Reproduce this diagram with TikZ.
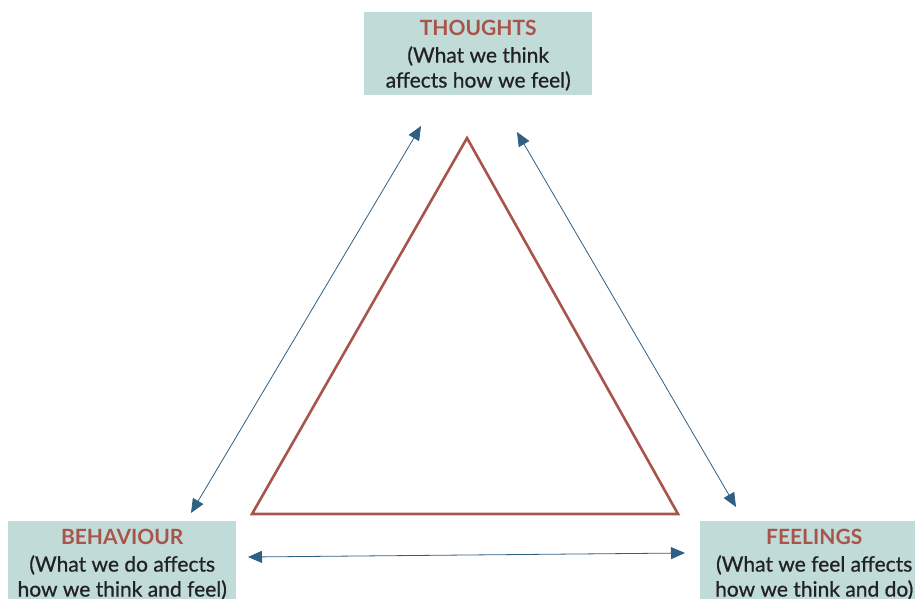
\documentclass[tikz,border=0pt]{standalone}
\usepackage{fontspec}
\setmainfont{Lato}
\newfontfamily\medfont{Lato}[RawFeature={embolden=0.8}]
\usetikzlibrary{arrows.meta}
\definecolor{boxfill}{HTML}{C1DCD8}
\definecolor{tred}{HTML}{A9544B}
\definecolor{tblue}{HTML}{2F5F82}
\definecolor{ttext}{HTML}{222222}
\tikzset{
  box/.style={fill=boxfill, draw=none, minimum width=228pt, minimum height=83pt, inner sep=0pt,
    anchor=north west},
  lbl/.style={anchor=north, inner sep=0pt, yshift=-8pt, align=center, text=ttext,
    font=\medfont\fontsize{21}{25}\selectfont},
  link/.style={draw=tblue, line width=0.8pt, {Triangle[width=12pt,length=14pt]}-{Triangle[width=12pt,length=14pt]}},
  tri/.style={draw=tred, line width=2.6pt, line join=miter},
}
\newcommand{\ttl}[1]{{\color{tred}\normalfont\fontsize{21}{25}\selectfont\bfseries #1}}
\begin{document}
\begin{tikzpicture}[x=1pt,y=-1pt]
\useasboundingbox (0,0) rectangle (915,598);
\begin{scope}
\clip (0,0) rectangle (915,598);
\node[box] (thoughts) at (364,12) {};
\node[box] (behaviour) at (8,521) {};
\node[box] (feelings) at (700,521) {};
\node[lbl] (tlbl) at (thoughts.north) {\ttl{THOUGHTS}\\[2pt](What we think\\affects how we feel)};
\node[lbl] (blbl) at (behaviour.north) {\ttl{BEHAVIOUR}\\[2pt](What we do affects\\how we think and feel)};
\node[lbl] (flbl) at (feelings.north) {\ttl{FEELINGS}\\[2pt](What we feel affects\\how we think and do)};
\end{scope}
% triangle
\coordinate (apex) at (467,138);
\coordinate (bl) at (252,514);
\coordinate (br) at (678,514);
\draw[tri] (apex) -- (bl) -- (br) -- cycle;
% arrows
\coordinate (a1) at (421,126);
\coordinate (a2) at (191,513);
\coordinate (b1) at (517,132);
\coordinate (b2) at (736,507);
\coordinate (c1) at (248,557);
\coordinate (c2) at (685,553);
\draw[link] (a1) -- (a2);
\draw[link] (b1) -- (b2);
\draw[link] (c1) -- (c2);
\end{tikzpicture}
\end{document}
